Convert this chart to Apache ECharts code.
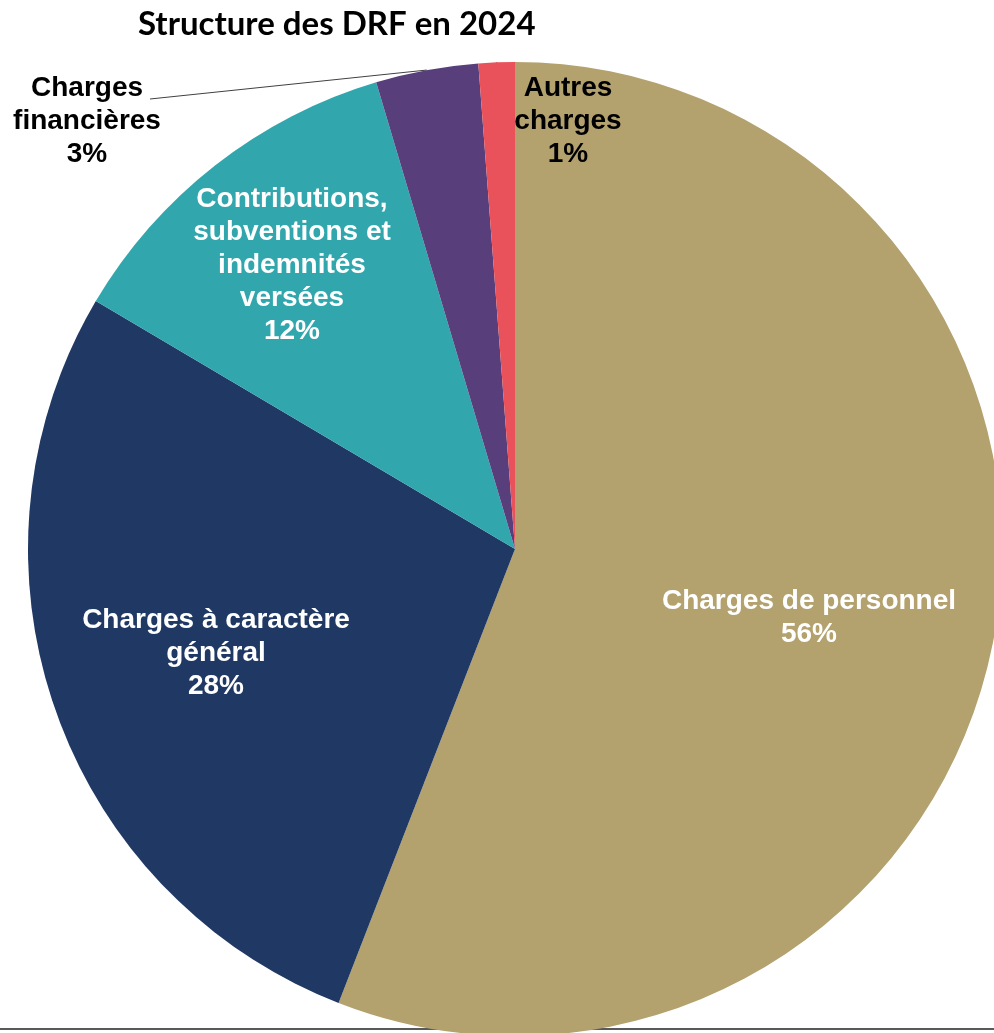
<!DOCTYPE html>
<html>
<head>
<meta charset="utf-8">
<script src="https://cdn.jsdelivr.net/npm/echarts@6/dist/echarts.min.js"></script>
<style>
  html, body { margin: 0; padding: 0; background: #fff; }
  #myEchart { width: 994px; height: 1033px; }
</style>
</head>
<body>
<div id="myEchart"></div>
<script>
// catégories et parts (en %)
var categories = [
  'Charges de personnel',
  'Charges à caractère\ngénéral',
  'Contributions,\nsubventions et\nindemnités\nversées',
  'Charges\nfinancières',
  'Autres\ncharges'
]
var values = [55.9, 27.6, 11.9, 3.4, 1.2]

// couleurs des secteurs
var colors = ['#B3A16E', '#1F3864', '#31A7AD', '#583E7B', '#E9525A']

// position du centre des étiquettes
var labelPos = [[809, 618], [216, 653], [292, 265], [87, 121], [568, 121]]

var chart = echarts.init(document.getElementById('myEchart'))

var data = categories.map(function (name, i) {
  return {
    name: name,
    value: values[i],
    label: {
      position: i < 3 ? 'inside' : 'outside',
      color: i < 3 ? '#fff' : '#000'
    },
    labelLine: { show: i >= 3 }
  }
})

chart.setOption({
  animation: false,
  color: colors,
  title: {
    text: 'Structure des DRF en 2024',
    left: 133,
    top: 3,
    textStyle: {
      fontFamily: 'Lato',
      fontWeight: 'bold',
      fontSize: 33,
      color: '#000'
    }
  },
  // trait gris en bas
  graphic: [{
    type: 'line',
    z: 0,
    shape: { x1: 0, y1: 1029, x2: 994, y2: 1029 },
    style: { stroke: '#595959', lineWidth: 2 }
  }],
  series: {
    type: 'pie',
    z: 2,
    center: [515, 549],
    radius: 487,
    startAngle: 90,
    clockwise: true,
    avoidLabelOverlap: false,
    data: data,
    emphasis: { disabled: true },
    label: {
      show: true,
      overflow: 'none',
      fontFamily: 'Liberation Sans, Arial, sans-serif',
      fontWeight: 'bold',
      fontSize: 28,
      lineHeight: 33,
      align: 'center',
      formatter: function (p) {
        return p.name + '\n' + Math.round(p.percent) + '%'
      }
    },
    labelLine: {
      lineStyle: { color: '#404040', width: 1 }
    },
    labelLayout: function (params) {
      var i = params.dataIndex
      var pos = labelPos[i]
      var res = { x: pos[0], y: pos[1], align: 'center', verticalAlign: 'middle' }
      if (i >= 3 && params.labelLinePoints) {
        var edge = params.labelLinePoints[0]
        if (i === 3) {
          res.labelLinePoints = [edge, [pos[0] + 63, pos[1] - 22]]
        } else {
          res.labelLinePoints = [edge, [edge[0], pos[1] + 9], [pos[0] - 57, pos[1] + 9]]
        }
      }
      return res
    }
  }
})
</script>
</body>
</html>
